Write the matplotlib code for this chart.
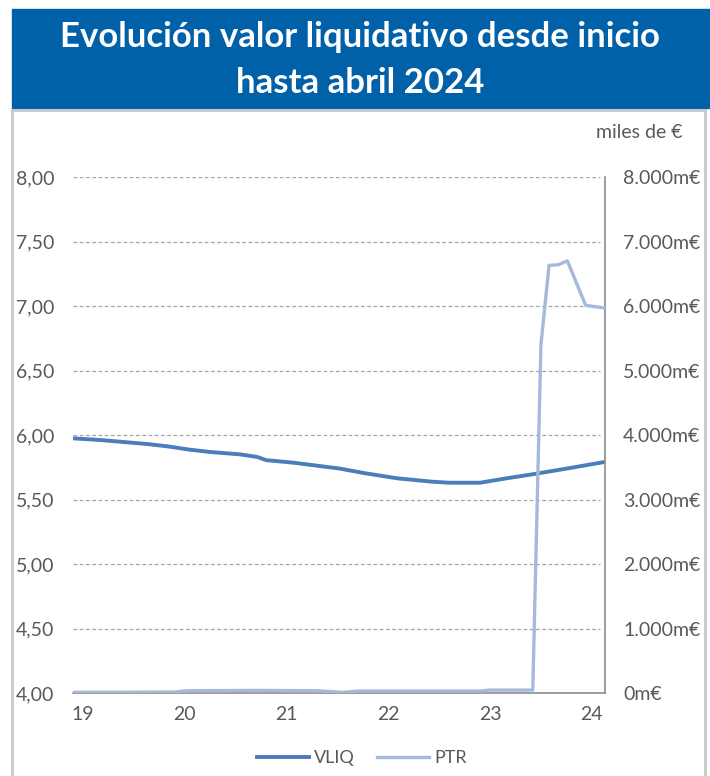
import matplotlib.pyplot as plt
from matplotlib.lines import Line2D
from matplotlib.patches import Rectangle
from matplotlib.ticker import FuncFormatter

plt.rcParams['font.family'] = ['Lato', 'DejaVu Sans']

# valor liquidativo (eje izquierdo), x en años (19 = 2019)
vliq_x = [18.90, 19.17, 19.63, 19.85, 20.02, 20.25, 20.54, 20.71, 20.80, 21.07,
          21.52, 21.76, 22.09, 22.43, 22.60, 22.90, 23.16, 23.43, 23.77, 24.12]
vliq_y = [5.974, 5.961, 5.930, 5.910, 5.889, 5.868, 5.850, 5.830, 5.805, 5.785,
          5.740, 5.705, 5.664, 5.638, 5.630, 5.630, 5.664, 5.697, 5.742, 5.790]

# patrimonio en miles de € (eje derecho)
ptr_x = [18.90, 19.90, 20.02, 20.70, 21.30, 21.55, 21.70, 22.90, 23.00, 23.42,
         23.50, 23.58, 23.67, 23.76, 23.94, 24.12]
ptr_y = [10, 15, 35, 40, 35, 10, 30, 30, 45, 45,
         5400, 6630, 6640, 6700, 6010, 5970]

year_ticks = [19, 20, 21, 22, 23, 24]
left_ticks = [4.0, 4.5, 5.0, 5.5, 6.0, 6.5, 7.0, 7.5, 8.0]
right_ticks = [0, 1000, 2000, 3000, 4000, 5000, 6000, 7000, 8000]

c_vliq = '#4A7EBB'
c_ptr = '#A5B9DA'
c_text = '#595959'

W, H = 710, 776
fig = plt.figure(figsize=(W / 100, H / 100), dpi=100)

# cabecera azul y marco gris
fig.patches.append(Rectangle((12 / W, 1 - 108 / H), 698 / W, 99 / H,
                             transform=fig.transFigure, color='#0061A8', zorder=0))
for xs, ys in [([12, 12], [110, 776]), ([12, 705], [110, 110]), ([705, 705], [110, 776])]:
    fig.lines.append(Line2D([x / W for x in xs], [1 - y / H for y in ys],
                            transform=fig.transFigure, color='#C8C8C8', lw=2))

fig.text(360 / W, 1 - 37 / H, 'Evolución valor liquidativo desde inicio',
         color='white', fontsize=25, fontweight='bold', ha='center', va='center')
fig.text(360 / W, 1 - 83 / H, 'hasta abril 2024',
         color='white', fontsize=25, fontweight='bold', ha='center', va='center')
fig.text(682 / W, 1 - 133 / H, 'miles de €', color=c_text, fontsize=14,
         ha='right', va='center')

ax = fig.add_axes([73 / W, 1 - 693 / H, 532 / W, 516 / H])
ax.plot(vliq_x, vliq_y, color=c_vliq, lw=2.8, solid_capstyle='round', zorder=3)
ax.set_xlim(18.9, 24.13)
ax.set_ylim(4, 8)
ax.set_yticks(left_ticks)
ax.yaxis.set_major_formatter(FuncFormatter(lambda v, p: f'{v:.2f}'.replace('.', ',')))
ax.set_xticks(year_ticks)
ax.set_xticklabels([str(t) for t in year_ticks])
for yv in left_ticks[1:]:
    ax.axhline(yv, xmax=0.99, color='#A6A6A6', lw=0.9, ls=(0, (3, 2)), zorder=1)

ax2 = ax.twinx()
ax2.plot(ptr_x, ptr_y, color=c_ptr, lw=2.4, zorder=3)
ax2.set_ylim(0, 8000)
ax2.set_yticks(right_ticks)
ax2.yaxis.set_major_formatter(
    FuncFormatter(lambda v, p: f'{int(v):,}'.replace(',', '.') + 'm€'))

for a in (ax, ax2):
    for s in ('top', 'left'):
        a.spines[s].set_visible(False)
    a.spines['right'].set_visible(a is ax2)
    a.spines['bottom'].set_visible(a is ax)
    a.spines['right'].set_color('#8C8C8C')
    a.spines['bottom'].set_color('#8C8C8C')
    a.spines['right'].set_linewidth(1.2)
    a.spines['bottom'].set_linewidth(1.2)

# pad en puntos: etiquetas izquierdas alineadas a la izquierda en x≈16 px
ax.tick_params(axis='y', length=0, pad=41, labelsize=14, labelcolor=c_text)
for lab in ax.get_yticklabels():
    lab.set_horizontalalignment('left')
ax.tick_params(axis='x', length=0, pad=9, labelsize=14, labelcolor=c_text)
ax2.tick_params(axis='y', length=0, pad=13, labelsize=14, labelcolor=c_text)

handles = [Line2D([], [], color=c_vliq, lw=2.8), Line2D([], [], color=c_ptr, lw=2.4)]
fig.legend(handles, ['VLIQ', 'PTR'], loc='center', bbox_to_anchor=(362 / W, 1 - 758 / H),
           ncol=2, frameon=False, fontsize=13, labelcolor=c_text,
           handlelength=2.9, handletextpad=0.3, columnspacing=1.2)

fig.savefig('out.png', dpi=100)
